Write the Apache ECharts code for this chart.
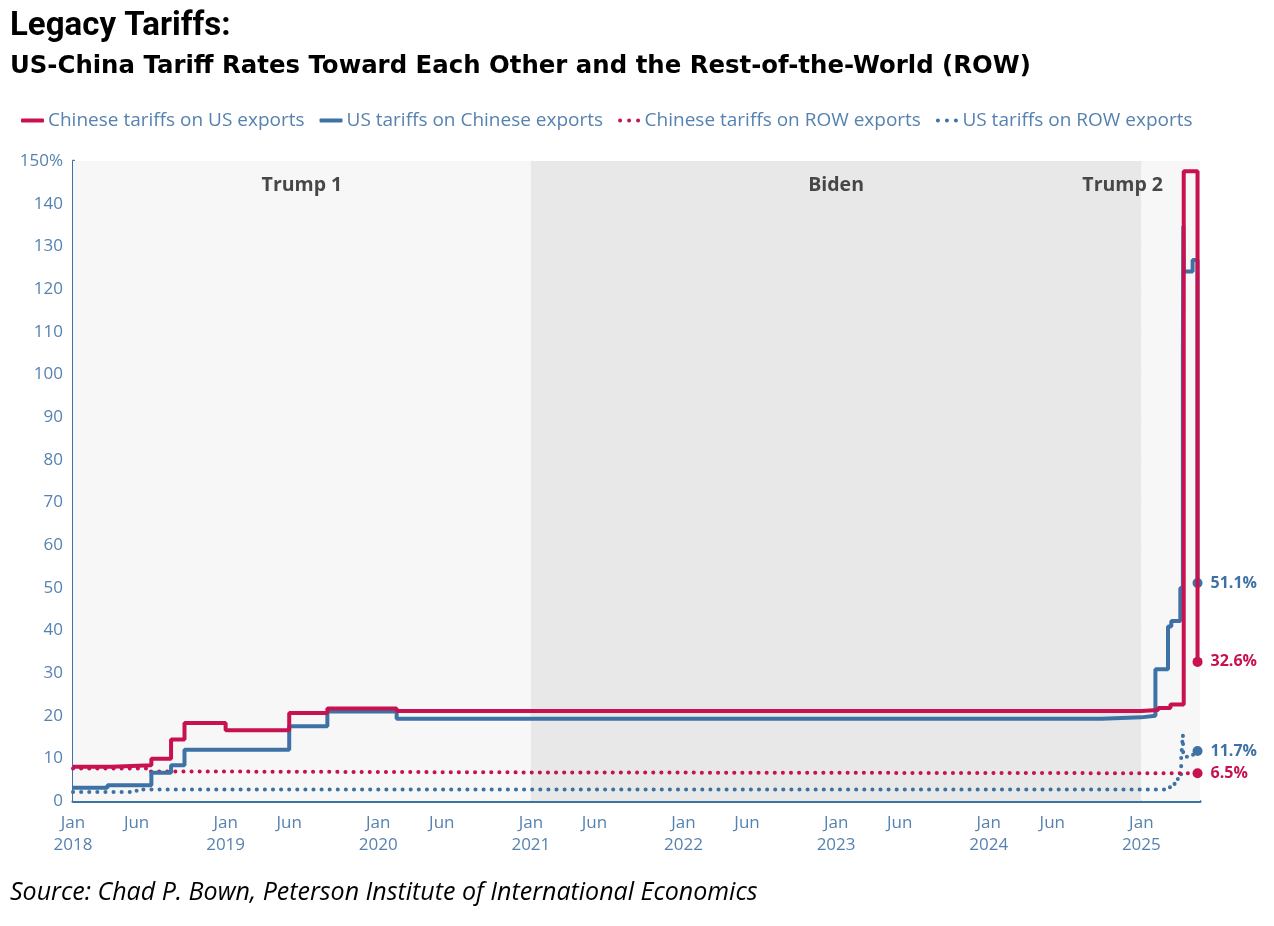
<!DOCTYPE html>
<html>
<head>
<meta charset="utf-8">
<script src="https://cdn.jsdelivr.net/npm/echarts@6/dist/echarts.min.js"></script>
<style>
  html, body { margin: 0; padding: 0; background: #ffffff; }
  #chart { width: 1274px; height: 926px; }
</style>
</head>
<body>
<div id="chart"></div>
<script>
// ---------- DATA ----------
const seriesNames = [
  'Chinese tariffs on US exports',
  'US tariffs on Chinese exports',
  'Chinese tariffs on ROW exports',
  'US tariffs on ROW exports'
];

const cnUsDates  = ['2018-01-01','2018-04-02','2018-07-06','2018-08-23','2018-09-24','2019-01-01','2019-06-01','2019-09-01','2020-02-14','2025-01-01','2025-02-10','2025-03-10','2025-04-11','2025-05-14'];
const cnUsValues = [8.0, 8.4, 9.9, 14.4, 18.3, 16.6, 20.6, 21.7, 21.1, 21.3, 21.8, 22.6, 147.6, 32.6];

const usCnDates  = ['2018-01-01','2018-03-23','2018-07-06','2018-08-23','2018-09-24','2019-06-01','2019-09-01','2020-02-14','2024-09-27','2025-01-01','2025-02-04','2025-03-04','2025-03-12','2025-04-03','2025-04-09','2025-04-10','2025-04-11','2025-05-02','2025-05-14'];
const usCnValues = [3.1, 3.7, 6.6, 8.4, 12.0, 17.5, 21.0, 19.3, 19.6, 20.0, 30.9, 40.9, 42.2, 49.9, 104.1, 134.7, 124.1, 126.8, 51.1];

const cnRowDates  = ['2018-01-01','2018-07-01','2019-01-01','2021-01-01','2025-05-14'];
const cnRowValues = [7.6, 6.9, 6.7, 6.5, 6.5];

const usRowDates  = ['2018-01-01','2018-06-01','2025-03-01','2025-03-12','2025-03-20','2025-03-28','2025-04-05','2025-04-09','2025-04-10','2025-05-03','2025-05-14'];
const usRowValues = [2.1, 2.7, 3.2, 3.8, 4.5, 5.7, 10.2, 15.5, 10.4, 11.7, 11.7];

const periodNames  = ['Trump 1', 'Biden', 'Trump 2'];
const periodStarts = ['2018-01-01', '2021-01-01', '2025-01-01'];
const periodEnds   = ['2021-01-01', '2025-01-01', '2025-05-20'];

const axisEnd   = '2025-05-20';
const yTicksMax = 150;

// ---------- HELPERS ----------
function toMonths(s) {
  const p = s.split('-').map(Number);
  const dim = new Date(p[0], p[1], 0).getDate();
  return (p[0] - 2018) * 12 + (p[1] - 1) + (p[2] - 1) / dim;
}
function pairs(dates, vals) { return dates.map((d, i) => [toMonths(d), vals[i]]); }

const RED = '#c8114f';
const BLUE = '#3f72a4';
const TXT = '#5682b0';
const FONT = 'Open Sans';
const DOTS_ICON = 'path://M0,2a2,2 0 1,0 4,0a2,2 0 1,0 -4,0M9,2a2,2 0 1,0 4,0a2,2 0 1,0 -4,0M18,2a2,2 0 1,0 4,0a2,2 0 1,0 -4,0';

function lastPoint(dates, vals, color) {
  const i = dates.length - 1;
  return {
    symbol: 'circle', symbolSize: 10, silent: true,
    itemStyle: { color: color },
    label: { show: true, position: 'right', distance: 8, color: color, fontWeight: 'bold',
             fontSize: 16, fontFamily: FONT, formatter: p => p.value.toFixed(1) + '%' },
    data: [{ coord: [toMonths(dates[i]), vals[i]], value: vals[i] }]
  };
}

const areaColors = ['#f7f7f8', '#e8e8e9', '#f7f7f8'];
const areaOffsets = [[0, 0], [0, 0], [-48, 0]];

const chart = echarts.init(document.getElementById('chart'), null, { renderer: 'canvas' });

chart.setOption({
  backgroundColor: '#ffffff',
  animation: false,
  title: [
    { text: 'Legacy Tariffs:', left: 5, top: 5,
      textStyle: { fontFamily: 'Roboto', fontWeight: 'bold', fontSize: 33, color: '#000' } },
    { text: 'US-China Tariff Rates Toward Each Other and the Rest-of-the-World (ROW)', left: 5, top: 50,
      textStyle: { fontFamily: 'DejaVu Sans', fontWeight: 'bold', fontSize: 24.4, color: '#000' } },
    { text: 'Source: Chad P. Bown, Peterson Institute of International Economics', left: 5, top: 875,
      textStyle: { fontFamily: 'Open Sans', fontStyle: 'italic', fontWeight: 'normal', fontSize: 25, color: '#000' } }
  ],
  legend: {
    data: [
      { name: seriesNames[0], icon: 'roundRect' },
      { name: seriesNames[1], icon: 'roundRect' },
      { name: seriesNames[2], icon: DOTS_ICON },
      { name: seriesNames[3], icon: DOTS_ICON }
    ],
    left: 16, top: 106,
    itemWidth: 23, itemHeight: 4, itemGap: 15,
    textStyle: { color: TXT, fontSize: 19, fontFamily: FONT, padding: [0, 0, 0, -1] }
  },
  grid: { left: 73, right: 74, top: 161, bottom: 125 },
  xAxis: {
    type: 'value',
    min: 0, max: toMonths(axisEnd), interval: 1,
    axisLine: { show: true, onZero: false, lineStyle: { color: BLUE, width: 3 } },
    axisTick: { show: false },
    splitLine: { show: false },
    axisLabel: {
      color: TXT, fontSize: 17, fontFamily: FONT, margin: 11, lineHeight: 22,
      showMaxLabel: false,
      formatter: function (v) {
        if (Math.abs(v - Math.round(v)) > 1e-6) return '';
        const r = Math.round(v);
        if (r % 12 === 0) return 'Jan\n' + (2018 + r / 12);
        if (r % 12 === 5) return 'Jun';
        return '';
      }
    }
  },
  yAxis: {
    type: 'value', min: 0, max: yTicksMax, interval: 10,
    axisLine: { show: true, lineStyle: { color: BLUE, width: 3 } },
    axisTick: { show: false },
    splitLine: { show: true, lineStyle: { color: '#a9c0d6', width: 1 } },
    axisLabel: {
      color: TXT, fontSize: 17, fontFamily: FONT, margin: 10,
      formatter: v => (v === yTicksMax ? v + '%' : String(v))
    }
  },
  series: [
    {
      name: '_periods', type: 'line', data: [], z: -10, silent: true,
      markArea: {
        silent: true,
        data: periodNames.map((n, i) => [
          { name: n, xAxis: toMonths(periodStarts[i]), itemStyle: { color: areaColors[i] },
            label: { offset: areaOffsets[i] } },
          { xAxis: toMonths(periodEnds[i]) }
        ]),
        label: { show: true, position: 'insideTop', distance: 14, color: '#474747',
                 fontWeight: 'bold', fontSize: 19.5, fontFamily: FONT }
      }
    },
    {
      name: seriesNames[3], type: 'line', step: 'end', symbol: 'none', z: 3,
      data: pairs(usRowDates, usRowValues),
      lineStyle: { color: BLUE, width: 4, type: [0.1, 8], cap: 'round' },
      itemStyle: { color: BLUE },
      markPoint: lastPoint(usRowDates, usRowValues, BLUE)
    },
    {
      name: seriesNames[2], type: 'line', step: 'end', symbol: 'none', z: 4,
      data: pairs(cnRowDates, cnRowValues),
      lineStyle: { color: RED, width: 4, type: [0.1, 8], cap: 'round' },
      itemStyle: { color: RED },
      markPoint: lastPoint(cnRowDates, cnRowValues, RED)
    },
    {
      name: seriesNames[1], type: 'line', step: 'end', symbol: 'none', z: 5,
      data: pairs(usCnDates, usCnValues),
      lineStyle: { color: BLUE, width: 4 },
      itemStyle: { color: BLUE },
      markPoint: lastPoint(usCnDates, usCnValues, BLUE)
    },
    {
      name: seriesNames[0], type: 'line', step: 'end', symbol: 'none', z: 6,
      data: pairs(cnUsDates, cnUsValues),
      lineStyle: { color: RED, width: 4 },
      itemStyle: { color: RED },
      markPoint: lastPoint(cnUsDates, cnUsValues, RED)
    }
  ]
});
</script>
</body>
</html>
